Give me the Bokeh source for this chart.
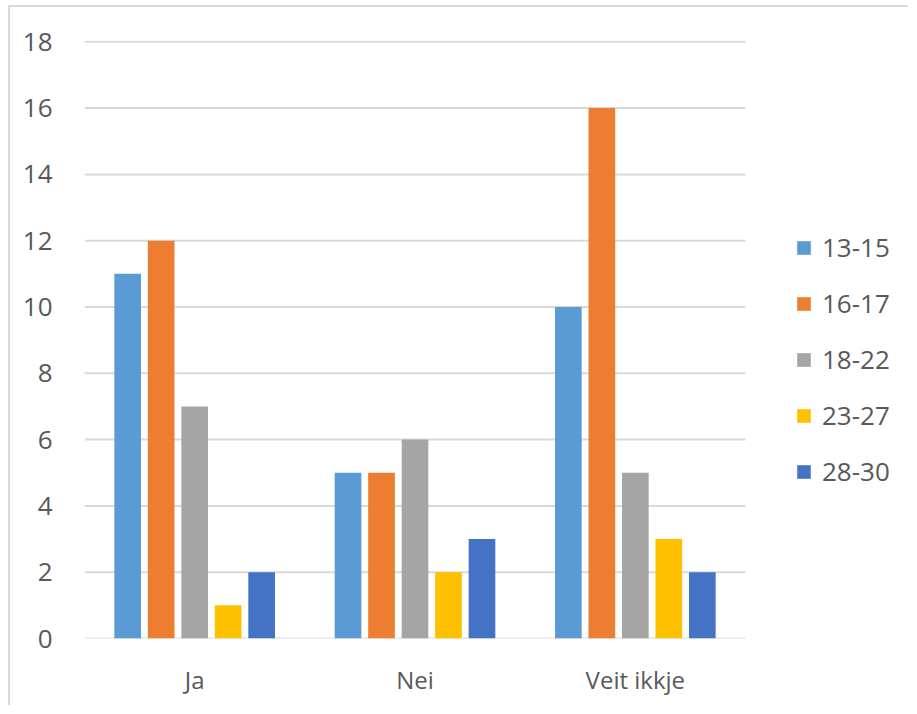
from bokeh.plotting import figure
from bokeh.models import Legend, LegendItem, ColumnDataSource, FixedTicker, Range1d
from bokeh.embed import file_html
from bokeh.resources import INLINE

categories = ["Ja", "Nei", "Veit ikkje"]
series = ["13-15", "16-17", "18-22", "23-27", "28-30"]
v_13_15 = [11, 5, 10]
v_16_17 = [12, 5, 16]
v_18_22 = [7, 6, 5]
v_23_27 = [1, 2, 3]
v_28_30 = [2, 3, 2]
colors = ["#5B9BD5", "#ED7D31", "#A5A5A5", "#FFC000", "#4472C4"]
y_ticks = [0, 2, 4, 6, 8, 10, 12, 14, 16, 18]

values = [v_13_15, v_16_17, v_18_22, v_23_27, v_28_30]
n_cat = len(categories)
centers = [k + 0.5 for k in range(n_cat)]

FONT = "Open Sans"
TXT = "#595959"

W, H = 900, 700
LEFT, TOP, BOTTOM = 74, 33, 69
PLOT_PX = 661  # pixel width of the category area
frame_w = W - LEFT
x_end = n_cat * frame_w / PLOT_PX

p = figure(x_range=Range1d(0, x_end), y_range=Range1d(0, 18.04),
           width=W, height=H, output_backend="svg", toolbar_location=None,
           min_border_left=LEFT, min_border_right=0, min_border_top=TOP,
           min_border_bottom=BOTTOM)
p.outline_line_color = None
p.background_fill_color = "white"
p.border_fill_color = "white"
p.styles = {"margin-left": "8px", "margin-top": "5px",
            "border-left": "2px solid #d9d9d9", "border-top": "2px solid #d9d9d9"}

# gridlines only across the category area
p.segment(x0=[0] * len(y_ticks), x1=[n_cat] * len(y_ticks), y0=y_ticks, y1=y_ticks,
          line_color="#d9d9d9", line_width=2, level="underlay")

step = 0.152
offsets = [-2 * step, -step, 0, step, 2 * step]
items = []
for i, (name, col, vals) in enumerate(zip(series, colors, values)):
    src = ColumnDataSource(dict(x=[c + offsets[i] for c in centers], top=vals))
    r = p.vbar(x="x", top="top", width=0.121, source=src, fill_color=col, line_color=None)
    items.append(LegendItem(label=name, renderers=[r]))

p.yaxis.ticker = FixedTicker(ticks=y_ticks)
p.yaxis.axis_line_color = None
p.yaxis.major_tick_line_color = None
p.yaxis.minor_tick_line_color = None
p.yaxis.major_label_standoff = 26
p.yaxis.major_label_text_font = FONT
p.yaxis.major_label_text_font_size = "26px"
p.yaxis.major_label_text_color = TXT

p.xaxis.ticker = FixedTicker(ticks=centers)
p.xaxis.major_label_overrides = {c: name for c, name in zip(centers, categories)}
p.xaxis.axis_line_color = None
p.xaxis.major_tick_line_color = None
p.xaxis.minor_tick_line_color = None
p.xaxis.major_label_standoff = 18
p.xaxis.major_label_text_font = FONT
p.xaxis.major_label_text_font_size = "24px"
p.xaxis.major_label_text_color = TXT

p.xgrid.grid_line_color = None
p.ygrid.grid_line_color = None

legend = Legend(items=items, location=(711, 149), orientation="vertical",
                border_line_color=None, background_fill_alpha=0,
                padding=0, margin=0, spacing=20,
                glyph_width=17, glyph_height=17, label_height=30,
                label_standoff=10, label_text_font=FONT,
                label_text_font_size="26px", label_text_color=TXT)
p.add_layout(legend, "center")

open("out.html", "w").write(file_html(p, INLINE))
